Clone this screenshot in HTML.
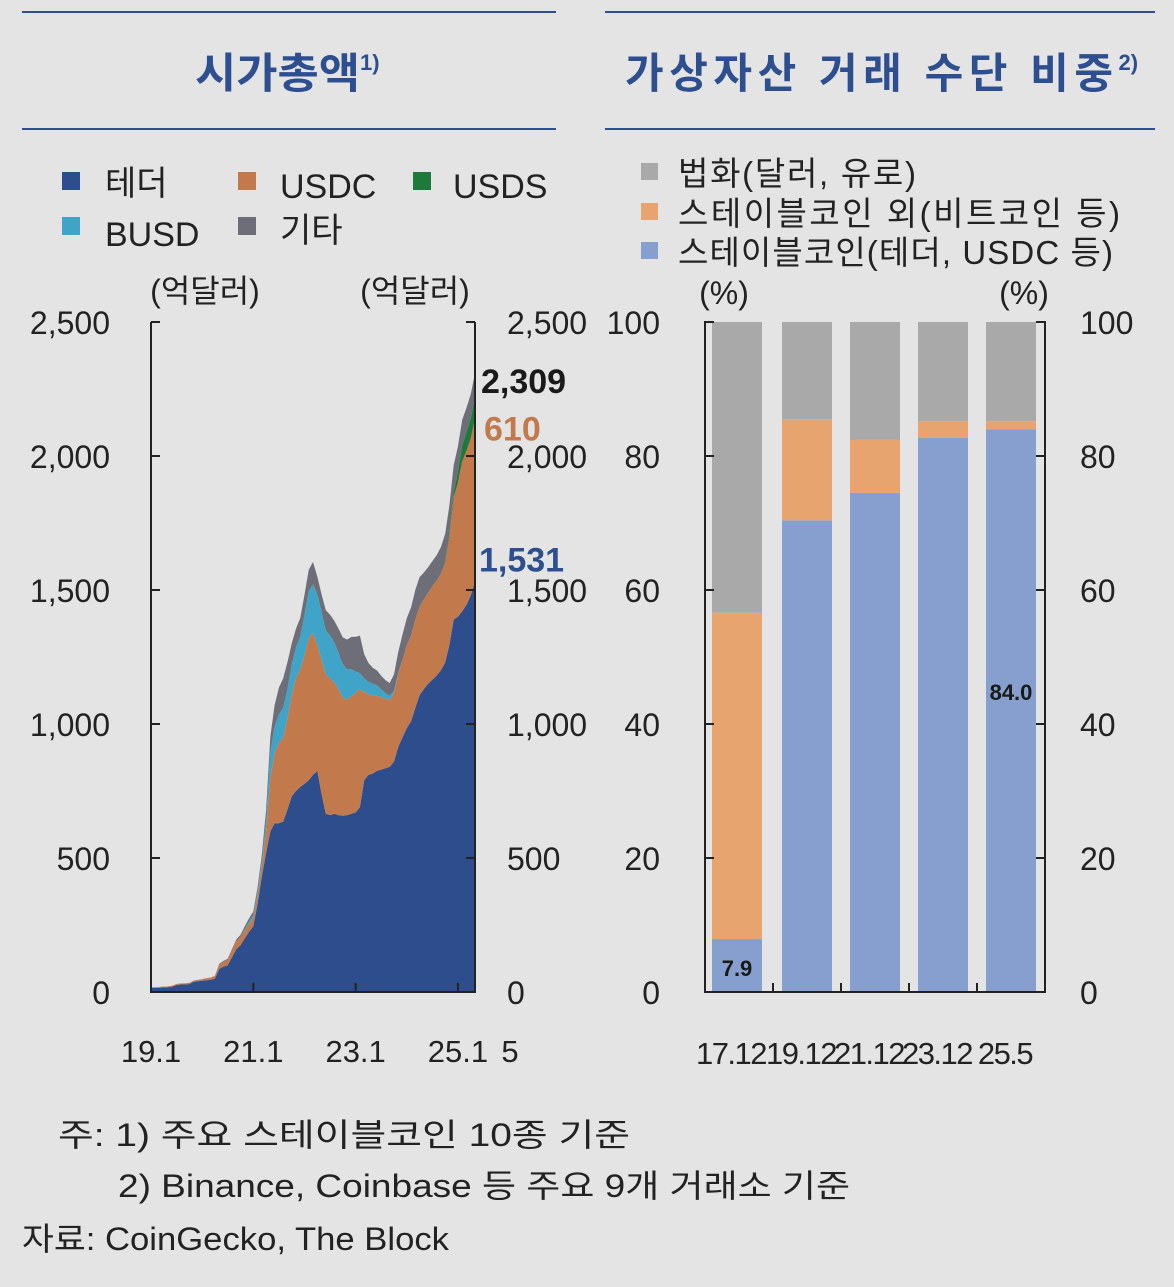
<!DOCTYPE html>
<html><head><meta charset="utf-8">
<style>
html,body{margin:0;padding:0;background:#e4e4e4;}
svg{display:block;font-family:"Liberation Sans","Noto Sans CJK KR",sans-serif;}
</style></head>
<body>
<svg id="s" width="1174" height="1287" viewBox="0 0 1174 1287" xmlns="http://www.w3.org/2000/svg">
<rect width="1174" height="1287" fill="#e4e4e4"/>
<line x1="22" y1="12" x2="556" y2="12" stroke="#2e4f8f" stroke-width="2"/>
<line x1="605" y1="12" x2="1155" y2="12" stroke="#2e4f8f" stroke-width="2"/>
<line x1="22" y1="129" x2="556" y2="129" stroke="#2e4f8f" stroke-width="2"/>
<line x1="605" y1="129" x2="1155" y2="129" stroke="#2e4f8f" stroke-width="2"/>
<text x="195" y="88" font-size="42" fill="#2e4f8f" font-weight="bold"><tspan textLength="165" lengthAdjust="spacingAndGlyphs">시가총액</tspan><tspan font-size="22" dy="-18">1)</tspan></text>
<text x="625" y="88" font-size="42" fill="#2e4f8f" font-weight="bold"><tspan textLength="488" lengthAdjust="spacing">가상자산 거래 수단 비중</tspan><tspan font-size="22" dy="-18">2)</tspan></text>

<g font-size="34" fill="#222">
<rect x="62" y="172" width="18" height="18" fill="#2e4d8c"/><text x="105" y="195">테더</text>
<rect x="238" y="172" width="18" height="18" fill="#c27a4c"/><text x="280" y="198">USDC</text>
<rect x="413" y="172" width="18" height="18" fill="#1e7a3a"/><text x="453" y="198">USDS</text>
<rect x="62" y="217" width="18" height="18" fill="#3fa4c8"/><text x="105" y="246">BUSD</text>
<rect x="238" y="217" width="18" height="18" fill="#6e6e78"/><text x="280" y="242">기타</text>
</g>
<g font-size="33" fill="#222">
<rect x="641" y="163" width="17" height="17" fill="#a9a9a9"/><text x="678" y="185" textLength="238">법화(달러, 유로)</text>
<rect x="641" y="203" width="17" height="17" fill="#e8a46e"/><text x="678" y="225" textLength="442">스테이블코인 외(비트코인 등)</text>
<rect x="641" y="242" width="17" height="17" fill="#879fce"/><text x="678" y="264" textLength="435">스테이블코인(테더, USDC 등)</text>
</g>
<g font-size="32" fill="#222">
<text x="205" y="302" text-anchor="middle">(억달러)</text>
<text x="415" y="302" text-anchor="middle">(억달러)</text>
<text x="724" y="304" text-anchor="middle">(%)</text>
<text x="1024" y="304" text-anchor="middle">(%)</text>
</g>
<g id="left"></g>
<g id="right"></g>
<g font-size="32" fill="#222">
<text x="58" y="1146" textLength="572" lengthAdjust="spacingAndGlyphs">주: 1) 주요 스테이블코인 10종 기준</text>
<text x="118" y="1197" textLength="732" lengthAdjust="spacingAndGlyphs">2) Binance, Coinbase 등 주요 9개 거래소 기준</text>
<text x="22" y="1250" textLength="427" lengthAdjust="spacingAndGlyphs">자료: CoinGecko, The Block</text>
</g>
</svg>
<script>
// Left chart: monthly values from 2019.1 to 2025.5 (억달러)
const tether=[15,15,16,17,18,20,26,28,28,30,38,40,42,44,45,50,86,95,100,130,160,175,200,225,245,330,430,520,600,630,630,636,680,730,750,765,777,790,810,825,740,665,660,665,660,658,660,665,670,690,790,810,815,825,830,835,840,860,915,950,985,1010,1060,1108,1130,1150,1165,1180,1200,1230,1296,1390,1400,1420,1445,1480,1531];
const usdc=[2,2,2,2,2,3,3,3,3,3,4,4,5,6,8,10,16,18,20,25,30,30,30,30,30,32,40,80,200,260,300,314,340,380,420,440,480,530,530,470,500,520,510,490,470,440,430,440,445,440,330,300,290,280,270,260,250,255,270,290,310,320,330,330,335,340,350,355,360,370,400,456,500,560,575,585,610];
const busd=[0,0,0,0,0,0,0,0,0,0,0,0,0,0,0,0,0,0,0,0,0,0,5,8,10,15,20,40,95,100,105,110,110,110,115,120,150,175,180,190,180,165,160,150,135,125,115,100,80,60,50,48,45,40,30,20,15,10,5,0,0,0,0,0,0,0,0,0,0,0,0,0,0,0,0,0,0];
const usds=[0,0,0,0,0,0,0,0,0,0,0,0,0,0,0,0,0,0,0,0,0,0,0,0,0,0,0,0,0,0,0,0,0,0,0,0,0,0,0,0,0,0,0,0,0,0,0,0,0,0,0,0,0,0,0,0,0,0,0,0,0,0,0,0,0,0,0,0,0,5,10,20,40,60,70,75,80];
const other=[1,1,1,1,1,1,1,1,1,1,1,1,1,1,1,1,3,3,4,5,6,8,10,12,15,15,20,40,60,80,100,110,100,80,70,70,75,80,85,65,65,75,78,80,90,100,110,120,130,140,90,70,60,55,50,48,48,60,80,94,100,105,110,110,100,95,93,95,100,105,110,100,95,95,90,90,88];
const leftTicks=["0","500","1,000","1,500","2,000","2,500"];
const leftTickVals=[0,500,1000,1500,2000,2500];
const xTickLabels=["19.1","21.1","23.1","25.1","5"];
const xTickMonths=[0,24,48,72,76];
const endLabels=["2,309","610","1,531"];
// Right chart
const barCats=["17.12","19.12","21.12","23.12","25.5"];
const stable=[7.9,70.4,74.5,82.7,84.0];
const nonStable=[48.7,15.1,7.9,2.5,1.2];
const fiat=[43.4,14.5,17.6,14.8,14.8];
const pctTicks=[0,20,40,60,80,100];

const NS="http://www.w3.org/2000/svg";
function mk(tag,attrs,parent){const e=document.createElementNS(NS,tag);for(const k in attrs)e.setAttribute(k,attrs[k]);parent.appendChild(e);return e;}
const L=document.getElementById('left'),R=document.getElementById('right');
const x0=151,x1=475,yb=992,yt=322;
const xs=m=>x0+m*(x1-x0)/76;
const ys=v=>yb-v*(yb-yt)/2500;
const series=[tether,usdc,busd,usds,other];
const cols=["#2e4d8c","#c27a4c","#3fa4c8","#1e7a3a","#6e6e78"];
const names=["area-tether","area-usdc","area-busd","area-usds","area-other"];
const n=tether.length;
let base=new Array(n).fill(0);
series.forEach((s,si)=>{
  const top=base.map((b,i)=>b+s[i]);
  let d="";
  for(let i=0;i<n;i++){d+=(i?"L":"M")+xs(i).toFixed(1)+","+ys(top[i]).toFixed(1);}
  for(let i=n-1;i>=0;i--){d+="L"+xs(i).toFixed(1)+","+ys(base[i]).toFixed(1);}
  const p=mk('path',{d:d+"Z",fill:cols[si]},L);
  
  
  base=top;
});
const ax=mk('path',{d:`M${x0},${yt}V${yb}H${x1}V${yt}`,fill:"none",stroke:"#222","stroke-width":2},L);


leftTickVals.forEach((v,i)=>{
  const y=ys(v);
  mk('line',{x1:x0,x2:x0+9,y1:y,y2:y,stroke:"#222","stroke-width":2},L);
  mk('line',{x1:x1,x2:x1-9,y1:y,y2:y,stroke:"#222","stroke-width":2},L);
  const t=mk('text',{x:110,y:y+12,"text-anchor":"end","font-size":32,fill:"#222"},L);t.textContent=leftTicks[i];
  
  
  const t2=mk('text',{x:507,y:y+12,"font-size":32,fill:"#222"},L);t2.textContent=leftTicks[i];
  
  
});
xTickMonths.forEach((m,i)=>{
  const x=xs(m);
  if(i<4)mk('line',{x1:x,x2:x,y1:yb,y2:yb-9,stroke:"#222","stroke-width":2},L);
  const t=mk('text',{x:i==4?x+35:x,y:1062,"text-anchor":"middle","font-size":31,fill:"#222"},L);t.textContent=xTickLabels[i];
  
  
});
const last=n-1;
const totalEnd=tether[last]+usdc[last]+busd[last]+usds[last]+other[last];
const el=[[totalEnd,"#1a1a1a",0,20],[tether[last]+usdc[last]/2+260,"#c27a4c",3,10],[tether[last],"#2e4f8f",-2,-10]];
const elNames=['end-label-total','end-label-usdc','end-label-tether'];
el.forEach((e,i)=>{
  const t=mk('text',{x:481+e[2],y:ys(e[0])+e[3],"font-size":34,"font-weight":"bold",fill:e[1]},L);
  t.textContent=endLabels[i];
  
  
});
// Right
const rx0=705,rx1=1045;
const py=v=>yb-v*(yb-yt)/100;
const bw=(rx1-rx0)/5;
barCats.forEach((c,i)=>{
  const cx=rx0+bw*(i+0.5)-(i==0?2:0);
  const segs=[[0,stable[i],"#879fce","bar-stable-"],[stable[i],stable[i]+nonStable[i],"#e8a46e","bar-nonstable-"],[stable[i]+nonStable[i],stable[i]+nonStable[i]+fiat[i],"#a9a9a9","bar-fiat-"]];
  segs.forEach(s=>{
    const top=Math.min(s[1],100);
    const r=mk('rect',{x:cx-25,y:py(top),width:50,height:py(s[0])-py(top),fill:s[2]},R);
    
    
  });
  const t=mk('text',{x:cx-6,y:1064,"text-anchor":"middle","font-size":31,fill:"#222","letter-spacing":"-1.5"},R);t.textContent=c;
  
  
  if(i>0)mk('line',{x1:rx0+bw*i,x2:rx0+bw*i,y1:yb,y2:yb-9,stroke:"#222","stroke-width":2},R);
});
[[0,976],[4,700]].forEach(([i,y])=>{
  const cx=rx0+bw*(i+0.5)-(i==0?2:0);
  const t=mk('text',{x:cx,y:y,"text-anchor":"middle","font-size":22,"font-weight":"bold",fill:"#1a1a1a"},R);
  t.textContent=stable[i].toFixed(1);
  
  
});
const rax=mk('path',{d:`M${rx0+9},${yt}H${rx0}V${yb}H${rx1}V${yt}H${rx1-9}`,fill:"none",stroke:"#222","stroke-width":2},R);


pctTicks.forEach(v=>{
  const y=py(v);
  mk('line',{x1:rx0,x2:rx0+9,y1:y,y2:y,stroke:"#222","stroke-width":2},R);
  mk('line',{x1:rx1,x2:rx1-9,y1:y,y2:y,stroke:"#222","stroke-width":2},R);
  const t=mk('text',{x:660,y:y+12,"text-anchor":"end","font-size":32,fill:"#222"},R);t.textContent=v;
  
  
  const t2=mk('text',{x:1080,y:y+12,"font-size":32,fill:"#222"},R);t2.textContent=v;
  
  
});
</script>
</body></html>
